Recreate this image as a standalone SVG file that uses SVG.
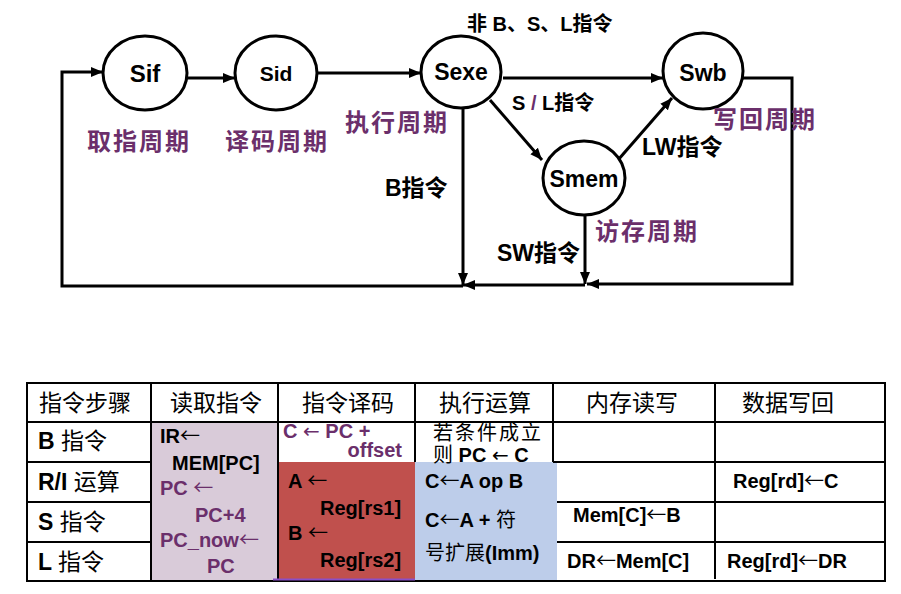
<svg xmlns="http://www.w3.org/2000/svg" width="901" height="594" viewBox="0 0 901 594">
<style>
.st{fill:#fff;stroke:#000;stroke-width:3}
.sn{font-family:"Liberation Sans",Arial,sans-serif;font-weight:bold;fill:#000;text-anchor:middle}
.ph{font-family:"Noto Sans CJK SC",sans-serif;font-weight:bold;fill:#6b2f6b;font-size:24px;letter-spacing:2px}
.lb{font-family:"Liberation Sans","Noto Sans CJK SC",sans-serif;font-weight:bold;fill:#000}
.cn{fill:none;stroke:#000;stroke-width:3}
.tl{stroke:#000;stroke-width:2;fill:none}
.hd{font-family:"Noto Sans CJK SC",sans-serif;font-size:23px;fill:#000;text-anchor:middle}
.tc{font-family:"Liberation Sans","Noto Sans CJK SC",sans-serif;font-weight:bold;font-size:20px;fill:#000}
.pu{fill:#6b2f6b}
.cj{font-family:"Noto Sans CJK SC",sans-serif;font-weight:normal}
.ar{font-family:"Noto Sans CJK SC","DejaVu Sans",sans-serif;font-weight:normal}
.ad{font-family:"DejaVu Sans",sans-serif;font-weight:normal}
.nw{font-weight:normal}
</style>
<defs>
<marker id="ah" markerUnits="userSpaceOnUse" markerWidth="14" markerHeight="12" refX="12" refY="6" orient="auto">
<path d="M0,1 L12,6 L0,11 Z" fill="#000"/>
</marker>
</defs>
<rect width="901" height="594" fill="#fff"/>

<g id="connectors">
<path class="cn" d="M187,78 L235,78" marker-end="url(#ah)"/>
<path class="cn" d="M318,73 L421,73" marker-end="url(#ah)"/>
<path class="cn" d="M503,78 L663,78" marker-end="url(#ah)"/>
<path class="cn" d="M490,100 L542,160" marker-end="url(#ah)"/>
<path class="cn" d="M618,160 L672,98" marker-end="url(#ah)"/>
<path class="cn" d="M743,78 L792,78 L792,284 L587,284" marker-end="url(#ah)"/>
<path class="cn" d="M585,215 L585,284" marker-end="url(#ah)"/>
<path class="cn" d="M585,285 L463,285" marker-end="url(#ah)"/>
<path class="cn" d="M463,108 L463,285" marker-end="url(#ah)"/>
<path class="cn" d="M463,286 L62,286 L62,72 L103,72" marker-end="url(#ah)"/>
</g>

<g id="Sif">
<ellipse class="st" cx="145" cy="73" rx="42" ry="37"/>
<text class="sn" x="145" y="82" font-size="24">Sif</text>
</g>
<g id="Sid">
<ellipse class="st" cx="276" cy="73" rx="41" ry="37"/>
<text class="sn" x="276" y="81" font-size="21">Sid</text>
</g>
<g id="Sexe">
<ellipse class="st" cx="461" cy="72" rx="40" ry="36"/>
<text class="sn" x="461" y="80" font-size="23">Sexe</text>
</g>
<g id="Swb">
<ellipse class="st" cx="703" cy="71" rx="40" ry="38"/>
<text class="sn" x="703" y="81" font-size="23">Swb</text>
</g>
<g id="Smem">
<ellipse class="st" cx="584" cy="178" rx="41" ry="37"/>
<text class="sn" x="584" y="187" font-size="23">Smem</text>
</g>

<g id="phase-labels">
<text class="ph" x="87" y="150">取指周期</text>
<text class="ph" x="225" y="150">译码周期</text>
<text class="ph" x="345" y="131">执行周期</text>
<text class="ph" x="713" y="128">写回周期</text>
<text class="ph" x="595" y="240">访存周期</text>
</g>

<g id="edge-labels">
<text class="lb" x="467" y="31" font-size="20">非 B、S、L指令</text>
<text class="lb" x="512" y="110" font-size="20">S <tspan fill="#6b2f6b">/</tspan> L指令</text>
<text class="lb" x="642" y="155" font-size="23">LW指令</text>
<text class="lb" x="385" y="196" font-size="23">B指令</text>
<text class="lb" x="497" y="261" font-size="23">SW指令</text>
</g>

<g id="table">
<rect x="151" y="422" width="127" height="159" fill="#d9cbd9"/>
<rect x="278" y="462" width="137" height="119" fill="#c0504d"/>
<rect x="415" y="462" width="142" height="119" fill="#bdcdea"/>
<rect class="tl" x="27" y="383" width="858" height="198"/>
<path class="tl" d="M27,422 H885 M27,462 H151 M553,462 H885 M27,502 H151 M557,502 H885 M27,542 H151 M557,542 H885 M151,383 V581 M278,383 V581 M415,383 V462 M553,383 V462 M715,383 V579"/>
<path d="M273,579.5 H415" stroke="#8a4fc7" stroke-width="2"/>

<text class="hd" x="85" y="411">指令步骤</text>
<text class="hd" x="216" y="411">读取指令</text>
<text class="hd" x="348" y="411">指令译码</text>
<text class="hd" x="485" y="411">执行运算</text>
<text class="hd" x="632" y="411">内存读写</text>
<text class="hd" x="788" y="411">数据写回</text>

<text class="lb" x="38" y="449" font-size="23">B <tspan class="cj">指令</tspan></text>
<text class="lb" x="38" y="490" font-size="23">R/I <tspan class="cj">运算</tspan></text>
<text class="lb" x="38" y="530" font-size="23">S <tspan class="cj">指令</tspan></text>
<text class="lb" x="38" y="570" font-size="23">L <tspan class="cj">指令</tspan></text>

<text class="tc" x="160" y="443">IR<tspan class="ar">←</tspan></text>
<text class="tc" x="172" y="470">MEM[PC]</text>
<text class="tc pu" x="160" y="495">PC <tspan class="ar">←</tspan></text>
<text class="tc pu" x="195" y="522">PC+4</text>
<text class="tc pu" x="160" y="547">PC_now<tspan class="ar">←</tspan></text>
<text class="tc pu" x="207" y="573">PC</text>

<text class="tc pu" x="283" y="438" font-size="18">C <tspan class="ad">←</tspan> PC +</text>
<text class="tc pu" x="402" y="457" font-size="18" text-anchor="end">offset</text>
<text class="tc" x="288" y="488">A <tspan class="ar">←</tspan></text>
<text class="tc" x="320" y="515">Reg[rs1]</text>
<text class="tc" x="288" y="540">B <tspan class="ar">←</tspan></text>
<text class="tc" x="320" y="567">Reg[rs2]</text>

<text class="tc nw" x="433" y="440" font-size="17" letter-spacing="2">若条件成立</text>
<text class="tc" x="433" y="462" font-size="17"><tspan class="nw">则</tspan>  PC <tspan class="ad">←</tspan> C</text>
<text class="tc" x="425" y="488">C<tspan class="ar">←</tspan>A op B</text>
<text class="tc" x="425" y="527">C<tspan class="ar">←</tspan>A + <tspan class="cj">符</tspan></text>
<text class="tc" x="425" y="560"><tspan class="cj">号扩展</tspan>(Imm)</text>

<text class="tc" x="573" y="522">Mem[C]<tspan class="ar">←</tspan>B</text>
<text class="tc" x="567" y="568">DR<tspan class="ar">←</tspan>Mem[C]</text>
<text class="tc" x="733" y="488">Reg[rd]<tspan class="ar">←</tspan>C</text>
<text class="tc" x="727" y="568">Reg[rd]<tspan class="ar">←</tspan>DR</text>
</g>
</svg>
